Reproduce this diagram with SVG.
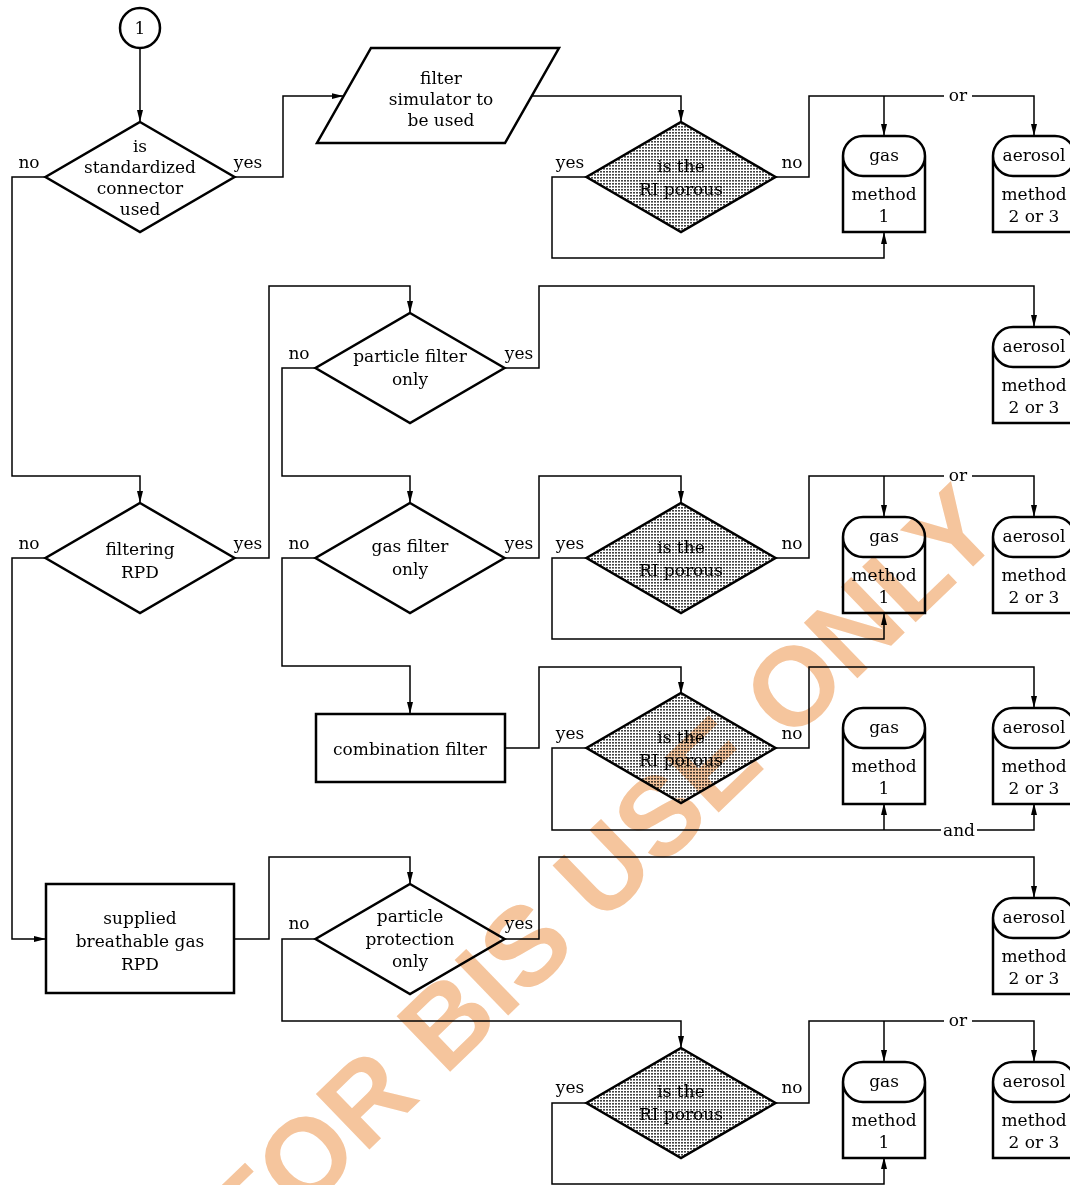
<svg xmlns="http://www.w3.org/2000/svg" width="1070" height="1185" viewBox="0 0 1070 1185">
<defs>
<marker id="ar" viewBox="0 0 12 6" refX="12" refY="3" markerWidth="12" markerHeight="6" markerUnits="userSpaceOnUse" orient="auto"><path d="M0,0 L12,3 L0,6 Z" fill="#000"/></marker>
<pattern id="dots" width="3" height="3" patternUnits="userSpaceOnUse"><rect width="3" height="3" fill="#fff"/><rect x="0" y="0" width="2" height="1.6" fill="#444"/></pattern>
<path id="cyl" d="M0,96 V20 A20,20 0 0 1 20,0 H62 A20,20 0 0 1 82,20 V96 Z M0,20 A20,20 0 0 0 20,40 H62 A20,20 0 0 0 82,20"/>
<path id="dia" d="M0,-55 L94.5,0 L0,55 L-94.5,0 Z"/>
</defs>
<style>
text{font-family:"DejaVu Serif","Liberation Serif",serif;font-size:17px;fill:#000;text-anchor:middle}
.s{fill:#fff;stroke:#000;stroke-width:2.5;stroke-linejoin:miter}
.d{fill:url(#dots);stroke:#000;stroke-width:2.5}
.c{fill:none;stroke:#000;stroke-width:1.5}
.a{marker-end:url(#ar)}
.wm{font-family:"Liberation Sans",Arial,sans-serif;font-weight:bold;font-size:112px;fill:#f5c59d;mix-blend-mode:multiply}
</style>
<rect width="1070" height="1185" fill="#fff"/>

<g id="connectors">
<path class="c a" d="M140,48 V122"/>
<path class="c a" d="M234,177 H283 V96 H343.5"/>
<path class="c a" d="M532,96 H681 V122"/>
<path class="c" d="M775,177 H809 V96 H944"/>
<path class="c a" d="M972,96 H1034 V136"/>
<path class="c a" d="M884,96 V136"/>
<path class="c a" d="M586,177 H552 V258 H884 V232"/>
<path class="c a" d="M46,177 H12 V476 H140 V503"/>
<path class="c a" d="M46,558 H12 V939 H46"/>
<path class="c a" d="M234,558 H269 V286 H410 V313"/>
<path class="c a" d="M505,368 H539 V286 H1034 V327"/>
<path class="c a" d="M316,368 H282 V476 H410 V503"/>
<path class="c a" d="M505,558 H539 V476 H681 V503"/>
<path class="c" d="M775,558 H809 V476 H944"/>
<path class="c a" d="M972,476 H1034 V517"/>
<path class="c a" d="M884,476 V517"/>
<path class="c a" d="M586,558 H552 V639 H884 V613"/>
<path class="c a" d="M316,558 H282 V666 H410 V714"/>
<path class="c a" d="M505,748 H539 V667 H681 V694"/>
<path class="c a" d="M775,748 H809 V667 H1034 V708"/>
<path class="c" d="M586,748 H552 V830 H941"/>
<path class="c a" d="M884,830 V803"/>
<path class="c a" d="M977,830 H1034 V803"/>
<path class="c a" d="M234,939 H269 V857 H410 V884"/>
<path class="c a" d="M505,939 H539 V857 H1034 V898"/>
<path class="c a" d="M316,939 H282 V1021 H681 V1048"/>
<path class="c" d="M775,1103 H809 V1021 H944"/>
<path class="c a" d="M972,1021 H1034 V1062"/>
<path class="c a" d="M884,1021 V1062"/>
<path class="c a" d="M586,1103 H552 V1184 H884 V1157"/>
<text x="958" y="101">or</text>
<text x="958" y="481">or</text>
<text x="959" y="836">and</text>
<text x="958" y="1026">or</text>
<text x="29" y="168">no</text><text x="248" y="168">yes</text>
<text x="570" y="168">yes</text><text x="792" y="168">no</text>
<text x="299" y="359">no</text><text x="519" y="359">yes</text>
<text x="29" y="549">no</text><text x="248" y="549">yes</text>
<text x="299" y="549">no</text><text x="519" y="549">yes</text>
<text x="570" y="549">yes</text><text x="792" y="549">no</text>
<text x="570" y="739">yes</text><text x="792" y="739">no</text>
<text x="299" y="929">no</text><text x="519" y="929">yes</text>
<text x="570" y="1093">yes</text><text x="792" y="1093">no</text>
</g>

<g id="start"><circle class="s" cx="140" cy="28" r="20"/><text x="140" y="34">1</text></g>

<g id="q-connector"><use href="#dia" class="s" x="140" y="177"/>
<text x="140" y="152">is</text><text x="140" y="173">standardized</text><text x="140" y="194">connector</text><text x="140" y="215">used</text></g>

<g id="simulator"><path class="s" d="M371,48 H559 L505,143 H317 Z"/>
<text x="441" y="84">filter</text><text x="441" y="105">simulator to</text><text x="441" y="126">be used</text></g>

<g id="porous1"><use href="#dia" class="d" x="681" y="177"/><text x="681" y="172">is the</text><text x="681" y="195">RI porous</text></g>
<g id="gas1"><use href="#cyl" class="s" x="843" y="136"/><text x="884" y="161">gas</text><text x="884" y="200">method</text><text x="884" y="222">1</text></g>
<g id="aerosol1"><use href="#cyl" class="s" x="993" y="136"/><text x="1034" y="161">aerosol</text><text x="1034" y="200">method</text><text x="1034" y="222">2 or 3</text></g>

<g id="q-filtering"><use href="#dia" class="s" x="140" y="558"/><text x="140" y="555">filtering</text><text x="140" y="578">RPD</text></g>

<g id="q-particle"><use href="#dia" class="s" x="410" y="368"/><text x="410" y="362">particle filter</text><text x="410" y="385">only</text></g>
<g id="aerosol2"><use href="#cyl" class="s" x="993" y="327"/><text x="1034" y="352">aerosol</text><text x="1034" y="391">method</text><text x="1034" y="413">2 or 3</text></g>

<g id="q-gas"><use href="#dia" class="s" x="410" y="558"/><text x="410" y="552">gas filter</text><text x="410" y="575">only</text></g>
<g id="porous2"><use href="#dia" class="d" x="681" y="558"/><text x="681" y="553">is the</text><text x="681" y="576">RI porous</text></g>
<g id="gas2"><use href="#cyl" class="s" x="843" y="517"/><text x="884" y="542">gas</text><text x="884" y="581">method</text><text x="884" y="603">1</text></g>
<g id="aerosol3"><use href="#cyl" class="s" x="993" y="517"/><text x="1034" y="542">aerosol</text><text x="1034" y="581">method</text><text x="1034" y="603">2 or 3</text></g>

<g id="combination"><rect class="s" x="316" y="714" width="189" height="68"/><text x="410" y="755">combination filter</text></g>
<g id="porous3"><use href="#dia" class="d" x="681" y="748"/><text x="681" y="743">is the</text><text x="681" y="766">RI porous</text></g>
<g id="gas3"><use href="#cyl" class="s" x="843" y="708"/><text x="884" y="733">gas</text><text x="884" y="772">method</text><text x="884" y="794">1</text></g>
<g id="aerosol4"><use href="#cyl" class="s" x="993" y="708"/><text x="1034" y="733">aerosol</text><text x="1034" y="772">method</text><text x="1034" y="794">2 or 3</text></g>

<g id="supplied"><rect class="s" x="46" y="884" width="188" height="109"/><text x="140" y="924">supplied</text><text x="140" y="947">breathable gas</text><text x="140" y="970">RPD</text></g>
<g id="q-protection"><use href="#dia" class="s" x="410" y="939"/><text x="410" y="922">particle</text><text x="410" y="945">protection</text><text x="410" y="967">only</text></g>
<g id="aerosol5"><use href="#cyl" class="s" x="993" y="898"/><text x="1034" y="923">aerosol</text><text x="1034" y="962">method</text><text x="1034" y="984">2 or 3</text></g>
<g id="porous4"><use href="#dia" class="d" x="681" y="1103"/><text x="681" y="1097">is the</text><text x="681" y="1120">RI porous</text></g>
<g id="gas4"><use href="#cyl" class="s" x="843" y="1062"/><text x="884" y="1087">gas</text><text x="884" y="1126">method</text><text x="884" y="1148">1</text></g>
<g id="aerosol6"><use href="#cyl" class="s" x="993" y="1062"/><text x="1034" y="1087">aerosol</text><text x="1034" y="1126">method</text><text x="1034" y="1148">2 or 3</text></g>

<g id="watermark"><text class="wm" x="0" y="0" transform="translate(629,899) rotate(-44)">FOR BIS USE ONLY</text></g>
</svg>
